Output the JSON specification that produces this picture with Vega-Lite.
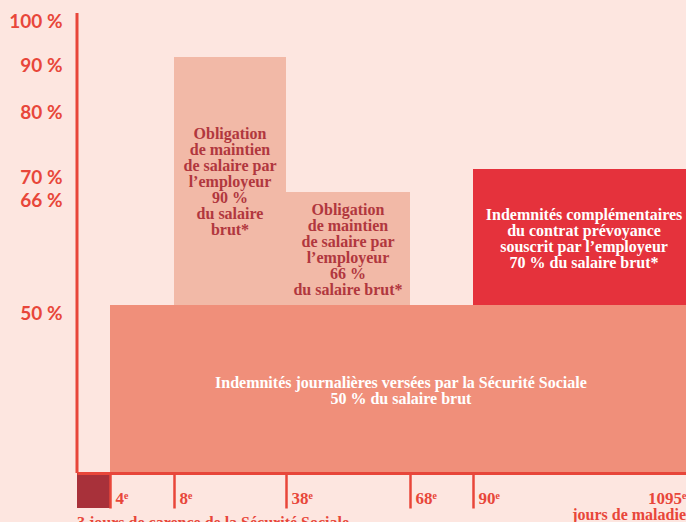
{
  "$schema": "https://vega.github.io/schema/vega-lite/v6.json",
  "width": 609,
  "height": 460,
  "autosize": {"type": "none"},
  "padding": {"left": 77, "top": 13, "right": 0, "bottom": 49},
  "background": "#FDE6E0",
  "config": {"view": {"stroke": null}},
  "datasets": {
    "blocks": [
      {"serie": "carence", "start": 0, "end": 4, "low": -10, "high": 0},
      {"serie": "secu", "start": 4, "end": 1095, "low": 0, "high": 50},
      {"serie": "emp90", "start": 8, "end": 38, "low": 50, "high": 90},
      {"serie": "emp66", "start": 38, "end": 68, "low": 50, "high": 66},
      {"serie": "prev", "start": 90, "end": 1095, "low": 50, "high": 70}
    ],
    "labels": [
      {"text": "Obligation\nde maintien\nde salaire par\nl’employeur\n90 %\ndu salaire\nbrut*", "x": 23, "y": 75.4, "tone": "dark"},
      {"text": "Obligation\nde maintien\nde salaire par\nl’employeur\n66 %\ndu salaire brut*", "x": 53, "y": 63.4, "tone": "dark"},
      {"text": "Indemnités complémentaires\ndu contrat prévoyance\nsouscrit par l’employeur\n70 % du salaire brut*", "x": 614, "y": 62.8, "tone": "light"},
      {"text": "Indemnités journalières versées par la Sécurité Sociale\n50 % du salaire brut", "x": 65.8, "y": 26.8, "tone": "light"}
    ]
  },
  "layer": [
    {
      "data": {"name": "blocks"},
      "mark": {"type": "rect"},
      "encoding": {
        "x": {
          "field": "start", "type": "quantitative",
          "scale": {"domain": [0, 4, 8, 38, 68, 90, 1095], "range": [0, 33, 97, 209, 333, 396, 609], "nice": false, "zero": false},
          "axis": {
            "values": [4, 8, 38, 68, 90, 1095],
            "labelExpr": "datum.value + 'ᵉ'",
            "title": null, "grid": false, "zindex": 1,
            "domainColor": "#E8463A", "domainWidth": 3,
            "tickColor": {"condition": {"test": "datum.value === 1095", "value": "transparent"}, "value": "#E8463A"},
            "tickWidth": 2.5, "tickSize": 35,
            "labelFont": "Liberation Serif", "labelFontWeight": "bold", "labelFontSize": 17, "labelColor": "#E8463A",
            "labelAlign": {"condition": {"test": "datum.value === 1095", "value": "right"}, "value": "left"},
            "labelOffset": {"condition": {"test": "datum.value === 1095", "value": 0}, "value": 5},
            "labelBaseline": "alphabetic", "labelPadding": -5,
            "labelFlush": false, "labelOverlap": false, "labelBound": false
          }
        },
        "x2": {"field": "end"},
        "y": {
          "field": "low", "type": "quantitative",
          "scale": {"domain": [-20, 0, 50, 66, 70, 80, 90, 100], "range": [530, 460, 292, 179, 156, 91, 44, 0], "nice": false, "zero": false},
          "axis": {
            "values": [50, 66, 70, 80, 90, 100],
            "labelExpr": "datum.value + ' %'",
            "title": null, "grid": false, "domain": false, "ticks": false, "tickSize": 0,
            "labelPadding": 15,
            "labelFont": "Lato", "labelFontWeight": "bold", "labelFontSize": 19, "labelColor": "#E8463A",
            "labelBaseline": "top", "labelAlign": "right", "labelOffset": -1,
            "labelFlush": false, "labelOverlap": false, "labelBound": false
          }
        },
        "y2": {"field": "high"},
        "color": {
          "field": "serie", "type": "nominal",
          "scale": {"domain": ["carence", "secu", "emp90", "emp66", "prev"], "range": ["#A8313A", "#F08F7A", "#F2B9A7", "#F2B9A7", "#E5323C"]},
          "legend": null
        }
      }
    },
    {
      "data": {"values": [{"x": 0, "y": 0, "y2": 100}]},
      "mark": {"type": "rule", "color": "#E8463A", "strokeWidth": 3},
      "encoding": {
        "x": {"field": "x", "type": "quantitative"},
        "y": {"field": "y", "type": "quantitative"},
        "y2": {"field": "y2"}
      }
    },
    {
      "data": {"name": "labels"},
      "mark": {"type": "text", "font": "Liberation Serif", "fontWeight": "bold", "fontSize": 16, "lineHeight": 16, "lineBreak": "\n", "align": "center", "baseline": "middle"},
      "encoding": {
        "x": {"field": "x", "type": "quantitative"},
        "y": {"field": "y", "type": "quantitative"},
        "text": {"field": "text"},
        "color": {"condition": {"test": "datum.tone === 'light'", "value": "#FFFFFF"}, "value": "#B1373E"}
      }
    },
    {
      "data": {"values": [{"text": "jours de maladie", "x": 1095, "y": -13.4}]},
      "mark": {"type": "text", "font": "Liberation Serif", "fontWeight": "bold", "fontSize": 16, "align": "right", "baseline": "alphabetic", "color": "#E8463A"},
      "encoding": {
        "x": {"field": "x", "type": "quantitative"},
        "y": {"field": "y", "type": "quantitative"},
        "text": {"field": "text"}
      }
    },
    {
      "data": {"values": [{"text": "3 jours de carence de la Sécurité Sociale", "x": 0, "y": -15.7}]},
      "mark": {"type": "text", "font": "Liberation Serif", "fontWeight": "bold", "fontSize": 16, "align": "left", "baseline": "alphabetic", "color": "#E8463A"},
      "encoding": {
        "x": {"field": "x", "type": "quantitative"},
        "y": {"field": "y", "type": "quantitative"},
        "text": {"field": "text"}
      }
    }
  ]
}
